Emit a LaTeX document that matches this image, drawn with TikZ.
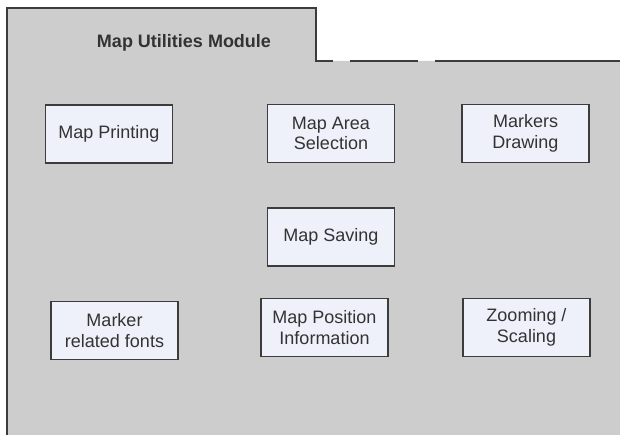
\documentclass[tikz,border=0pt]{standalone}
\usepackage{fontspec}
\setmainfont{Liberation Sans}
\definecolor{panel}{HTML}{CDCDCD}
\definecolor{boxfill}{HTML}{EEF1FA}
\definecolor{edge}{HTML}{3C3C3C}
\definecolor{ink}{HTML}{333333}
\tikzset{
  modbox/.style={draw=edge, fill=boxfill, line width=1.3pt, minimum width=127pt, minimum height=58pt,
    align=center, inner sep=1pt, text=ink, font=\fontsize{18}{20.5}\selectfont},
  border/.style={draw=edge, line width=1.3pt}
}
\begin{document}
\begin{tikzpicture}[x=1pt,y=-1pt]
\useasboundingbox[fill=white] (0,0) rectangle (620,435);
% panel
\fill[panel] (7,8) -- (316,8) -- (316,61) -- (620,61) -- (620,435) -- (7,435) -- cycle;
\coordinate (bl) at (7,435);
\coordinate (tl) at (7,8);
\coordinate (tr) at (316,8);
\coordinate (tb) at (316,61);
\coordinate (g1a) at (333,61);
\coordinate (g1b) at (350,61);
\coordinate (g2a) at (418,61);
\coordinate (g2b) at (435,61);
\coordinate (re) at (620,61);
\draw[border] (bl) -- (tl) -- (tr) -- (tb) -- (g1a);
\draw[border] (g1b) -- (g2a);
\draw[border] (g2b) -- (re);
\node[font=\bfseries\fontsize{18}{20}\selectfont, text=ink] (title) at (184,43) {Map Utilities Module};
% modules
\node[modbox] (print) at (109,134) {Map Printing};
\node[modbox] (area) at (331,133.5) {Map Area\\Selection};
\node[modbox] (markers) at (525.5,133.5) {Markers\\Drawing};
\node[modbox] (saving) at (331,237) {Map Saving};
\node[modbox] (fonts) at (114.5,330.5) {Marker\\related fonts};
\node[modbox] (position) at (324.5,327.5) {Map Position\\Information};
\node[modbox] (zoom) at (526.5,327.5) {Zooming /\\Scaling};
\end{tikzpicture}
\end{document}
